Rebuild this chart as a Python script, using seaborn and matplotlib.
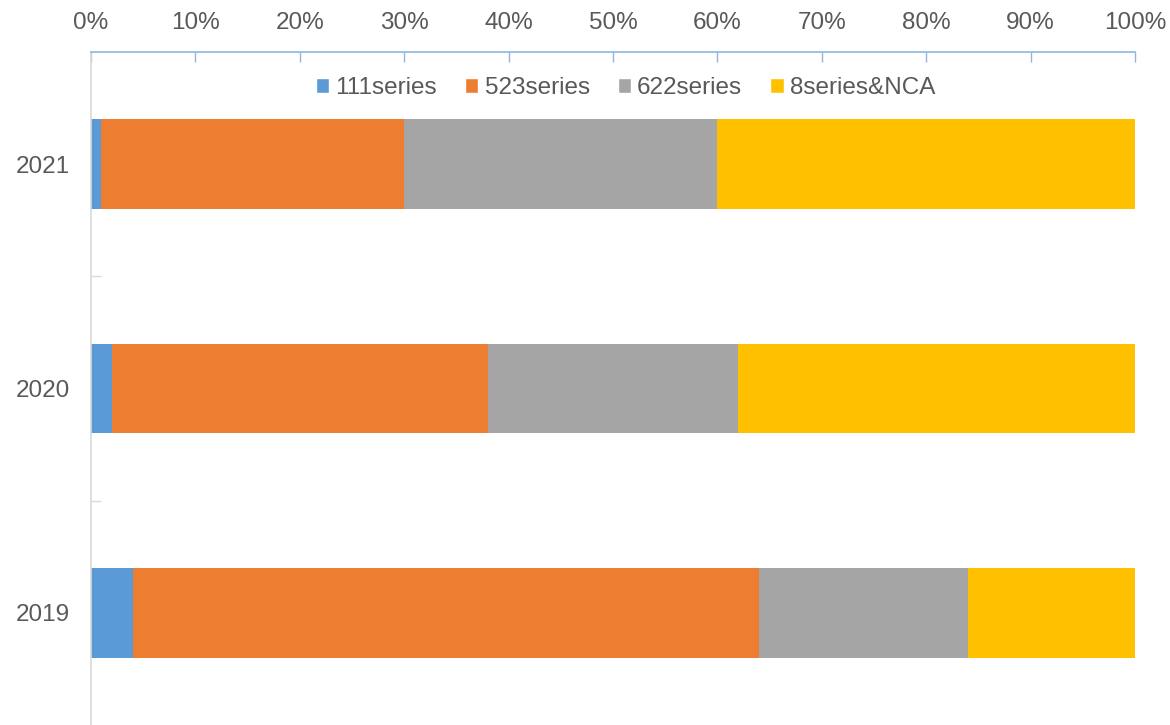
import pandas as pd
import matplotlib.pyplot as plt
import seaborn as sns
from matplotlib.ticker import FixedLocator, PercentFormatter
from matplotlib.patches import Patch

# === Données (part en %) ===
years = ["2021", "2020", "2019"]
series_names = ["111series", "523series", "622series", "8series&NCA"]
s111 = [1, 2, 4]
s523 = [29, 36, 60]
s622 = [30, 24, 20]
s8nca = [40, 38, 16]
colors = ["#5B9BD5", "#ED7D31", "#A5A5A5", "#FFC000"]

df = pd.DataFrame({"Annee": years, "111series": s111, "523series": s523,
                   "622series": s622, "8series&NCA": s8nca})
cum = df[series_names].cumsum(axis=1)

sns.set_style("white")
plt.rcParams["font.family"] = ["Liberation Sans", "DejaVu Sans"]

fig = plt.figure(figsize=(11.7, 7.25), dpi=100)
ax = fig.add_axes([0.0778, 0.0, 0.8923, 0.9283])

# barres empilées : on dessine les cumuls du plus grand au plus petit
for name, col in reversed(list(zip(series_names, colors))):
    sns.barplot(x=cum[name], y=df["Annee"], order=years, orient="h",
                color=col, width=0.4, saturation=1, ax=ax, linewidth=0)

ax.set_xlim(0, 100)
ax.set_ylim(2.5, -0.5)
ax.set_xlabel("")
ax.set_ylabel("")

axis_blue = "#8DB6E0"
grey_txt = "#595959"

# axe des x en haut
ax.xaxis.tick_top()
ax.xaxis.set_major_locator(FixedLocator(range(0, 101, 10)))
ax.xaxis.set_major_formatter(PercentFormatter(decimals=0))
ax.tick_params(axis="x", which="major", direction="in", length=7, width=1,
               color=axis_blue, labelsize=17.5, labelcolor=grey_txt, pad=13)
ax.tick_params(axis="y", which="major", length=0, labelsize=17.5,
               labelcolor=grey_txt, pad=15)
ax.yaxis.set_minor_locator(FixedLocator([0.5, 1.5]))
ax.tick_params(axis="y", which="minor", direction="in", length=7, width=1,
               color="#D9D9D9", left=True)

for side in ["right", "bottom"]:
    ax.spines[side].set_visible(False)
ax.spines["top"].set_color(axis_blue)
ax.spines["top"].set_linewidth(1.2)
ax.spines["left"].set_color("#D9D9D9")
ax.spines["left"].set_linewidth(1.2)

handles = [Patch(facecolor=c, label=n) for n, c in zip(series_names, colors)]
ax.legend(handles=handles, loc="upper center", bbox_to_anchor=(0.512, 0.995),
          ncol=4, frameon=False, fontsize=17.5, handlelength=0.55,
          handleheight=0.55, handletextpad=0.25, columnspacing=1.15,
          labelcolor=grey_txt)

plt.savefig("out.png", dpi=100)
plt.close()
